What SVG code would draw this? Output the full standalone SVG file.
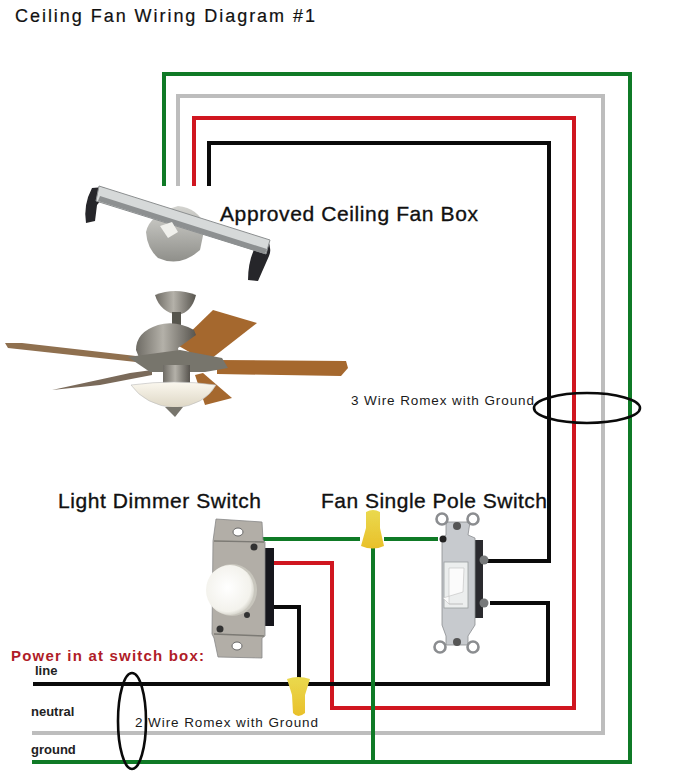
<svg xmlns="http://www.w3.org/2000/svg" width="687" height="772" viewBox="0 0 687 772">
<style>
.w{fill:none;stroke-width:4;stroke-linejoin:miter}
.g{stroke:#0f7a26}.n{stroke:#bdbdbd}.r{stroke:#d01620}.b{stroke:#0a0a0a}
text{font-family:"Liberation Sans",Arial,sans-serif;fill:#111}
.t{font-size:21px;stroke:#111;stroke-width:.35}
.s{font-size:13.5px;fill:#1a1a1a}
.l{font-size:13px;font-weight:bold;fill:#222}
.o{fill:none;stroke:#0a0a0a;stroke-width:2.6}
.hole{fill:#fff;stroke:#666;stroke-width:1}
.wood{fill:#a5682f}
.ph{filter:url(#soft)}
</style>
<defs>
<filter id="soft" x="-5%" y="-5%" width="110%" height="110%"><feGaussianBlur stdDeviation=".55"/></filter>
<linearGradient id="nickel" x1="0" y1="0" x2="1" y2="0"><stop offset="0" stop-color="#6e6b64"/><stop offset=".45" stop-color="#b4b1a9"/><stop offset="1" stop-color="#57544e"/></linearGradient>
<linearGradient id="nut" x1="0" y1="0" x2="0" y2="1"><stop offset="0" stop-color="#ead94e"/><stop offset="1" stop-color="#e9c02a"/></linearGradient>
<linearGradient id="bowl" x1="0" y1="0" x2="0" y2="1"><stop offset="0" stop-color="#fbf8ef"/><stop offset="1" stop-color="#ddd6c4"/></linearGradient>
<linearGradient id="box" x1="0" y1="0" x2="0" y2="1"><stop offset="0" stop-color="#d4d4d0"/><stop offset="1" stop-color="#8f8f8a"/></linearGradient>
<radialGradient id="knob" cx=".45" cy=".45" r=".6"><stop offset="0" stop-color="#fff"/><stop offset=".8" stop-color="#f3f2ec"/><stop offset="1" stop-color="#c9c7bd"/></radialGradient>
</defs>
<rect width="687" height="772" fill="#fff"/>
<g id="connectors">
<path class="w g" d="M164 186V74H630V762H32"/>
<path class="w n" d="M178 186V96H603V733H32"/>
<path class="w r" d="M194 186V118H574V708H332V563H274"/>
<path class="w b" d="M209 186V143H549V561H486"/>
<path class="w b" d="M490 603H548V684H33"/>
<path class="w b" d="M273 607H299V682"/>
<path class="w g" d="M262 539H360M384 539H438"/>
<path class="w g" d="M373 548V762"/>
</g>
<g id="title"><text x="15" y="22" style="font-size:18px" stroke="#111" stroke-width=".2" textLength="300">Ceiling Fan Wiring Diagram #1</text></g>
<g id="ceiling-fan-box">
<g class="ph">
<path d="M92 188L104 187 106 194 97 205 95 221 86 223Q83 205 92 188Z" fill="#26262a"/>
<path d="M258 242L268 240Q272 250 269 256L258 281 248 280Q248 258 258 242Z" fill="#26262a"/>
<path d="M146 232Q150 214 178 206 198 208 205 226L200 250Q180 268 158 258 147 248 146 232Z" fill="url(#box)"/>
<path d="M99 186L270 240 266 254 96 201Z" fill="#d6d9d9" stroke="#8c8f90" stroke-width="1"/>
<path d="M100 196L267 249 265 254 98 201Z" fill="#8d9091"/>
<path d="M160 226L172 222 178 232 168 238Z" fill="#f0f0ec"/>
</g>
<text class="t" x="220" y="221" textLength="258">Approved Ceiling Fan Box</text>
</g>
<g id="ceiling-fan" class="ph">
<path d="M5 343L22 343 136 356 136 362 8 348Z" fill="#8f6f50"/>
<path d="M52 390L130 373 152 370 152 375 100 385Z" fill="#7a6a5a"/>
<path d="M203 373L232 398 205 405 195 375Z" class="wood"/>
<path d="M177 345L213 310 257 323 207 362Z" class="wood"/>
<path d="M217 360L346 361 348 368 341 376 217 374Z" class="wood"/>
<path d="M155 295Q175 287 196 295 192 312 178 315 160 312 155 295Z" fill="url(#nickel)"/>
<rect x="172" y="312" width="9" height="14" fill="#57544e"/>
<path d="M136 350Q136 332 158 325 176 320 194 330L196 335 178 348 180 360H140Z" fill="url(#nickel)"/>
<path d="M128 357L180 350 222 358 228 368 205 372H150Z" fill="#77746c"/>
<rect x="163" y="365" width="27" height="22" fill="url(#nickel)"/>
<path d="M131 385Q175 379 216 385 205 405 175 408 145 405 131 385Z" fill="url(#bowl)" stroke="#bbb" stroke-width=".6"/>
<path d="M165 407H183L175 417Z" fill="#77746c"/>
</g>
<g id="light-dimmer-switch">
<text class="t" x="58" y="508" textLength="203">Light Dimmer Switch</text>
<g class="ph">
<rect x="263" y="548" width="11" height="78" fill="#15151a"/>
<path d="M216 519L262 522 263 540 265 542 265 636 262 638 262 658 218 657 214 638 212 634 213 541Z" fill="#b2aea7" stroke="#888" stroke-width=".8"/>
<path d="M214 541L264 542M214 634L264 636" stroke="#7c7a74" stroke-width="1.4" fill="none"/>
<ellipse cx="238" cy="532" rx="5" ry="4" class="hole"/>
<ellipse cx="237" cy="646" rx="5" ry="4" class="hole"/>
<circle cx="254" cy="547" r="3.5" fill="#333"/><circle cx="220" cy="629" r="3.5" fill="#333"/>
<circle cx="247" cy="615" r="3" fill="#333"/>
<ellipse cx="232" cy="590" rx="25" ry="26" fill="#c8c6bd"/>
<ellipse cx="230" cy="590" rx="24" ry="25" fill="url(#knob)"/>
</g>
</g>
<g id="fan-single-pole-switch">
<text class="t" x="321" y="508" textLength="226">Fan Single Pole Switch</text>
<g class="ph">
<rect x="474" y="540" width="9" height="78" fill="#2a2c2e"/>
<path d="M446 522L470 522 468 535 475 538 475 625 468 636 468 645 446 645 446 636 442 625 442 538 446 535Z" fill="#c7cace" stroke="#8a8d90" stroke-width=".8"/>
<circle cx="442" cy="519" r="5.5" fill="#fff" stroke="#8b8d90" stroke-width="2.6"/>
<circle cx="473" cy="519" r="5.5" fill="#fff" stroke="#8b8d90" stroke-width="2.6"/>
<circle cx="440" cy="647" r="5.5" fill="#fff" stroke="#8b8d90" stroke-width="2.6"/>
<circle cx="473" cy="647" r="5.5" fill="#fff" stroke="#8b8d90" stroke-width="2.6"/>
<circle cx="457" cy="526" r="4" fill="#555"/><circle cx="457" cy="642" r="4" fill="#555"/>
<rect x="444" y="562" width="24" height="46" fill="#eceeee" stroke="#9a9d9f" stroke-width=".8"/>
<path d="M449 568H464L463 592 443 598 449 604 463 604H449Z" fill="#fbfbfb" stroke="#c0c0c0" stroke-width=".6"/>
<circle cx="484" cy="560" r="4.5" fill="#77797a"/><circle cx="484" cy="603" r="4.5" fill="#77797a"/>
<circle cx="443" cy="539" r="3.5" fill="#222"/>
</g>
</g>
<g id="wire-nut-top" class="ph"><path d="M366 512Q373 508 380 512L380 528 384 546Q373 551 361 546L366 528Z" fill="url(#nut)"/></g>
<g id="wire-nut-bottom" class="ph"><path d="M287 679Q298 675 310 679L305 695 305 713Q298 719 293 713L292 695Z" fill="url(#nut)"/></g>
<g id="romex-3-wire">
<text class="s" x="351" y="405" textLength="183">3 Wire Romex with Ground</text>
<ellipse class="o" cx="587" cy="408" rx="53" ry="15"/>
</g>
<g id="power-in">
<text x="11" y="661" style="font-size:15px;font-weight:bold;fill:#b01c28" textLength="193">Power in at switch box:</text>
<text class="l" x="35" y="675">line</text>
<text class="l" x="31" y="716">neutral</text>
<text class="l" x="31" y="754">ground</text>
<text class="s" x="135" y="727" textLength="183">2 Wire Romex with Ground</text>
<ellipse class="o" cx="132" cy="721" rx="14" ry="48"/>
</g>
</svg>
